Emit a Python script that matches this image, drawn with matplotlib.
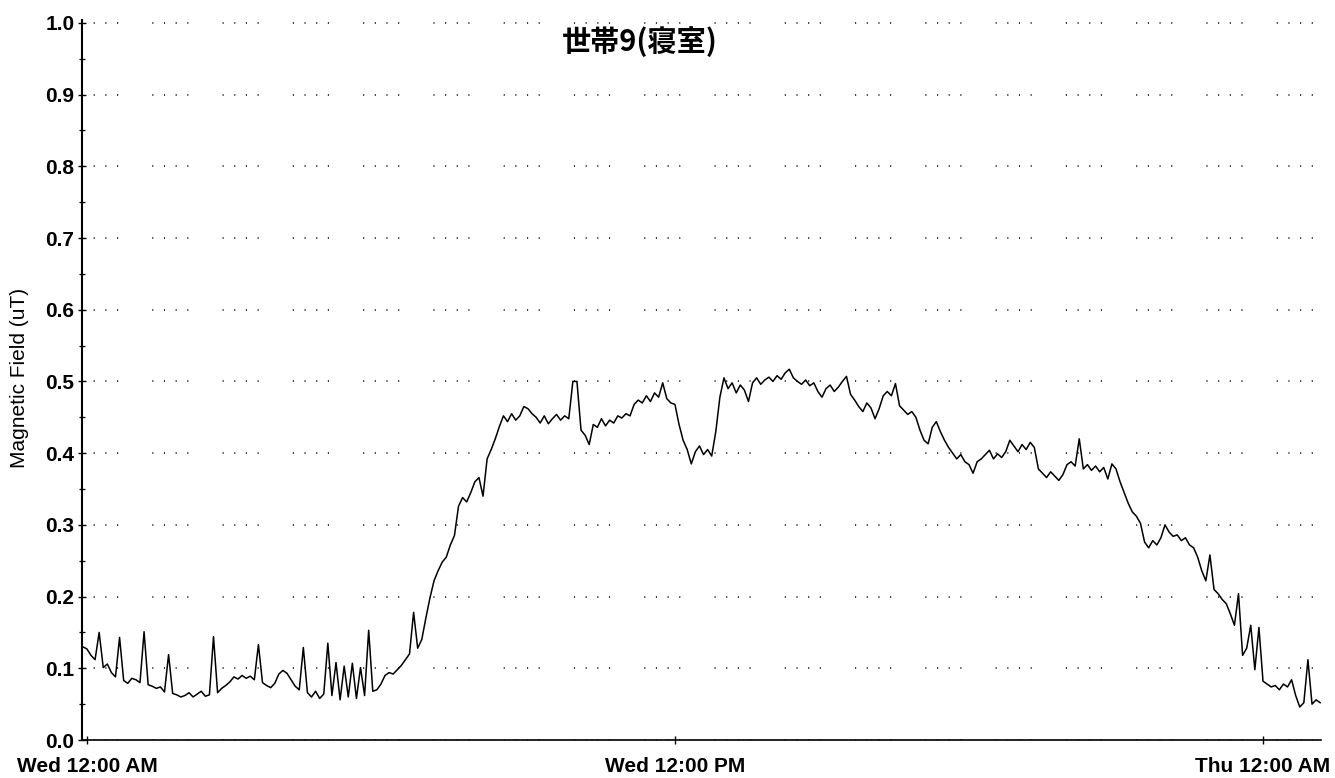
import matplotlib
matplotlib.use("Agg")
import matplotlib.pyplot as plt
import matplotlib.dates as mdates
from matplotlib.ticker import MultipleLocator, FormatStrFormatter
import pandas as pd

# Bedroom magnetic field, one reading every 5 minutes from Tue 23:55 to Thu 01:10
early = [
    0.130,
    0.127, 0.118, 0.112, 0.150, 0.101, 0.106, 0.094, 0.088, 0.143, 0.083, 0.079, 0.086,
    0.084, 0.080, 0.151, 0.077, 0.075, 0.072, 0.074, 0.067, 0.119, 0.065, 0.063, 0.060,
    0.062, 0.066, 0.060, 0.064, 0.068, 0.061, 0.063, 0.144, 0.066, 0.072, 0.076, 0.081,
    0.088, 0.085, 0.090, 0.086, 0.089, 0.084, 0.133, 0.080, 0.076, 0.073, 0.079, 0.092,
    0.097, 0.093, 0.084, 0.075, 0.070, 0.129, 0.066, 0.060, 0.068, 0.058, 0.064, 0.135,
    0.062, 0.108, 0.056, 0.103, 0.060, 0.107, 0.058, 0.101, 0.062, 0.153, 0.068, 0.070,
]
morning = [
    0.078, 0.090, 0.094, 0.092, 0.098, 0.104, 0.112, 0.120, 0.178, 0.128, 0.140, 0.170,
    0.198, 0.222, 0.236, 0.248, 0.255, 0.272, 0.285, 0.326, 0.338, 0.332, 0.345, 0.360,
    0.366, 0.340, 0.392, 0.405, 0.420, 0.437, 0.452, 0.444, 0.455, 0.446, 0.452, 0.465,
    0.462, 0.455, 0.450, 0.442, 0.452, 0.441, 0.448, 0.454, 0.446, 0.452, 0.448, 0.500,
    0.500, 0.432, 0.425, 0.412, 0.440, 0.436, 0.448, 0.438, 0.446, 0.442, 0.452, 0.449,
    0.455, 0.452, 0.468, 0.474, 0.470, 0.480, 0.472, 0.484, 0.478, 0.498, 0.476, 0.470,
]
afternoon = [
    0.468, 0.440, 0.418, 0.405, 0.385, 0.402, 0.410, 0.398, 0.405, 0.396, 0.430, 0.478,
    0.505, 0.490, 0.498, 0.484, 0.495, 0.488, 0.472, 0.498, 0.505, 0.496, 0.502, 0.506,
    0.500, 0.508, 0.503, 0.512, 0.517, 0.505, 0.500, 0.496, 0.502, 0.494, 0.498, 0.486,
    0.478, 0.490, 0.495, 0.486, 0.492, 0.500, 0.507, 0.482, 0.474, 0.465, 0.458, 0.470,
    0.463, 0.448, 0.462, 0.480, 0.486, 0.480, 0.497, 0.466, 0.460, 0.454, 0.458, 0.450,
    0.432, 0.418, 0.413, 0.436, 0.444, 0.430, 0.418, 0.408, 0.400, 0.392, 0.398, 0.388,
]
evening = [
    0.384, 0.372, 0.388, 0.392, 0.398, 0.404, 0.392, 0.399, 0.394, 0.402, 0.418, 0.410,
    0.402, 0.412, 0.405, 0.415, 0.408, 0.378, 0.372, 0.366, 0.374, 0.368, 0.362, 0.370,
    0.384, 0.388, 0.382, 0.420, 0.378, 0.384, 0.376, 0.382, 0.374, 0.380, 0.364, 0.385,
    0.378, 0.360, 0.345, 0.330, 0.318, 0.312, 0.302, 0.276, 0.268, 0.278, 0.272, 0.282,
    0.300, 0.290, 0.284, 0.286, 0.278, 0.282, 0.272, 0.268, 0.255, 0.236, 0.222, 0.258,
    0.210, 0.204, 0.196, 0.190, 0.176, 0.160, 0.204, 0.118, 0.128, 0.160, 0.098, 0.157,
]
late = [
    0.082, 0.078, 0.074, 0.076, 0.070, 0.078, 0.074, 0.084, 0.062, 0.046, 0.052, 0.112,
    0.050, 0.056, 0.052,
]

title = "世帯9(寝室)"
y_label = "Magnetic Field (uT)"

values = early + morning + afternoon + evening + late
times = pd.date_range("2019-12-31 23:55", periods=len(values), freq="5min")

plt.rcParams["font.family"] = ["Liberation Sans", "DejaVu Sans"]
plt.rcParams["lines.scale_dashes"] = False

W, H = 1335, 778
fig = plt.figure(figsize=(W / 100, H / 100), dpi=100)
ax = fig.add_axes([82 / W, 1 - 740 / H, (1321 - 82) / W, (740 - 20) / H])

ax.plot(times, values, color="black", lw=1.1, zorder=3)

ax.set_xlim(pd.Timestamp("2020-01-01 00:00") - pd.Timedelta(minutes=6),
            pd.Timestamp("2020-01-02 01:11"))
ax.set_ylim(0, 1.004)

ax.xaxis.set_major_locator(mdates.HourLocator(byhour=[0, 12]))
ax.xaxis.set_major_formatter(mdates.DateFormatter("%a %I:%M %p"))
ax.yaxis.set_major_locator(MultipleLocator(0.1))
ax.yaxis.set_minor_locator(MultipleLocator(0.05))
ax.yaxis.set_major_formatter(FormatStrFormatter("%.1f"))

ax.tick_params(axis="both", which="major", direction="inout", length=6,
               width=1, labelsize=15, colors="black")
ax.tick_params(axis="y", which="major", pad=2.5)
ax.tick_params(axis="x", which="major", pad=9)
ax.tick_params(axis="y", which="minor", direction="inout", length=5, width=0.9)
for lab in ax.get_xticklabels() + ax.get_yticklabels():
    lab.set_fontweight("bold")

ax.grid(axis="y", which="major", color="#222222", lw=1.3,
        linestyle=(0, (0.8, 7.6, 0.8, 7.6, 0.8, 7.6, 0.8, 24.6)))

for side in ("top", "right"):
    ax.spines[side].set_visible(False)
ax.spines["left"].set_linewidth(1.5)
ax.spines["bottom"].set_linewidth(1.2)

fig.text(640 / W, 1 - 42 / H, title, family=["Noto Sans CJK JP", "DejaVu Sans"],
         fontweight="bold", fontsize=21, ha="center", va="center")
fig.text(20 / W, 1 - 378 / H, y_label, rotation=90, ha="center", va="center",
         fontsize=15)

fig.savefig("out.png", dpi=100)
